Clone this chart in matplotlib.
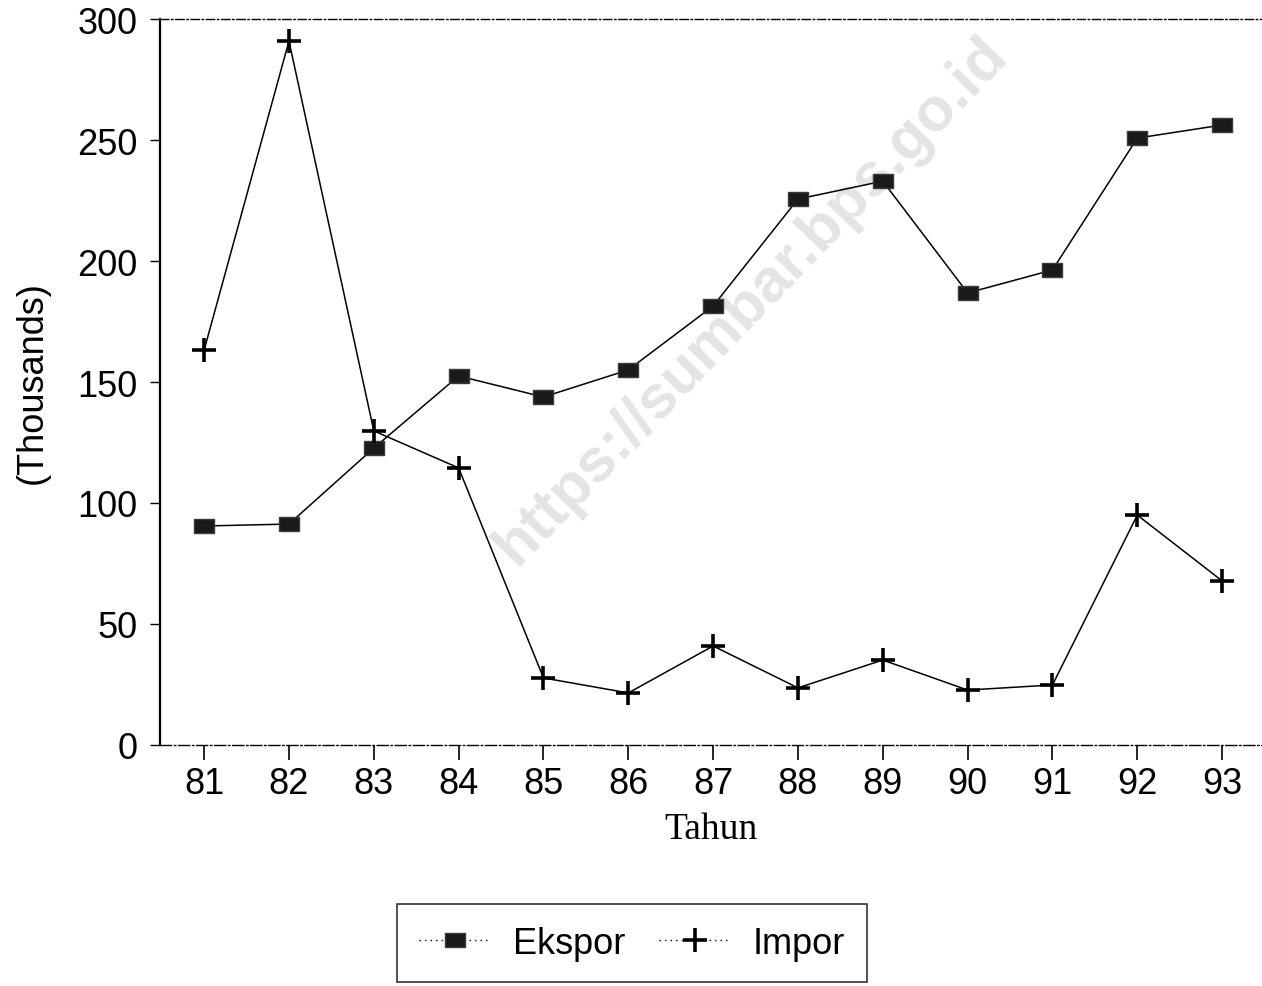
import matplotlib
matplotlib.use("Agg")
import matplotlib.pyplot as plt

# Data (ribu)
tahun = [81, 82, 83, 84, 85, 86, 87, 88, 89, 90, 91, 92, 93]
ekspor = [90.5, 91.3, 122.7, 152.5, 143.8, 155.0, 181.4, 225.6, 233.0, 186.8, 196.3, 250.8, 256.2]
impor = [163.2, 290.9, 129.8, 114.5, 27.7, 21.5, 40.9, 23.6, 35.1, 22.7, 24.8, 95.0, 67.8]
yticks = [0, 50, 100, 150, 200, 250, 300]

plt.rcParams["font.family"] = ["Liberation Sans", "DejaVu Sans"]

fig = plt.figure(figsize=(12.62, 9.87), dpi=100)
ax = fig.add_axes([0.1268, 0.2442, 0.8732, 0.7355])

# watermark (di bawah garis)
ax.text(0.596, 0.695, "https://sumbar.bps.go.id", transform=fig.transFigure,
        rotation=46, fontsize=44, fontweight="bold", color="#e4e4e4",
        ha="center", va="center", zorder=0)

rect = [(-1.0, -0.7), (1.0, -0.7), (1.0, 0.7), (-1.0, 0.7), (-1.0, -0.7)]
ax.plot(tahun, ekspor, color="black", lw=1.1, marker=rect, markersize=15,
        markerfacecolor="#1a1a1a", markeredgecolor="#3a3a3a", label="Ekspor")
ax.plot(tahun, impor, color="black", lw=1.1, marker="+", markersize=17,
        markeredgewidth=2.6, label="Impor")

ax.set_xlim(80.48, 93.47)
ax.set_ylim(0, 300)
ax.set_xticks(tahun)
ax.set_xticklabels([str(t) for t in tahun])
ax.set_yticks(yticks)
ax.tick_params(axis="y", direction="out", length=7, width=1.0, labelsize=26, pad=9)
ax.tick_params(axis="x", direction="out", length=11, width=1.2, labelsize=26, pad=4)

ax.spines["right"].set_visible(False)
ax.spines["left"].set_linewidth(1.6)
ax.spines["top"].set_linewidth(1.0)
ax.spines["top"].set_linestyle((0, (6, 2, 1, 2)))
ax.spines["bottom"].set_linewidth(1.0)
ax.spines["bottom"].set_linestyle((0, (8, 2, 1, 2)))

ax.set_xlabel("Tahun", fontsize=27, family=["Liberation Serif", "DejaVu Serif"], labelpad=8)
ax.set_ylabel("(Thousands)", fontsize=26)
ax.yaxis.set_label_coords(-0.1, 0.5)

leg = fig.legend(loc="upper left", bbox_to_anchor=(397 / 1262, 0.083),
                 ncol=2, fontsize=26, frameon=True, fancybox=False,
                 edgecolor="black", handlelength=2.0, columnspacing=0.95,
                 borderpad=0.6, handletextpad=0.6, borderaxespad=0.0)
leg.get_frame().set_linewidth(1.2)
for h in leg.get_lines():
    h.set_linestyle((0, (1, 3)))
    h.set_linewidth(1.0)

fig.savefig("out.png", dpi=100)
